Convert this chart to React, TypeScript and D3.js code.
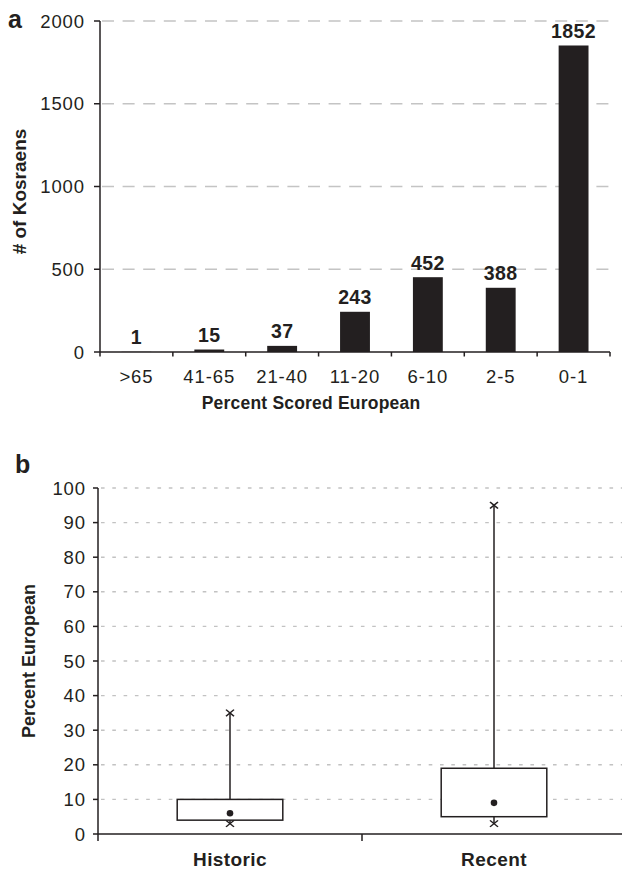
import * as d3 from "d3";

// panel a: histogram of European admixture
const categories = [">65", "41-65", "21-40", "11-20", "6-10", "2-5", "0-1"];
const counts = [1, 15, 37, 243, 452, 388, 1852];
const countTicks = [0, 500, 1000, 1500, 2000];

// panel b: box plots
const groups = ["Historic", "Recent"];
const q1 = [4, 5];
const q3 = [10, 19];
const means = [6, 9];
const maxs = [35, 95];
const mins = [3, 3];
const pctTicks = [0, 10, 20, 30, 40, 50, 60, 70, 80, 90, 100];

const W = 622;
const H = 873;
const ink = "#231f20";
const font = "'Liberation Sans', Arial, Helvetica, sans-serif";

export default function App() {
  const yA = d3.scaleLinear().domain([0, 2000]).range([352, 21]);
  const xA = d3.scaleBand().domain(categories).range([100, 610]);
  const barW = xA.bandwidth() * 0.41;

  const yB = d3.scaleLinear().domain([0, 100]).range([834, 488]);
  const xB = d3.scaleBand().domain(groups).range([98, 626]);
  const boxW = xB.bandwidth() * 0.4;
  const cross = d3.symbol(d3.symbolTimes, 36)() || "";

  const [a0, a1] = xA.range();
  const [b0, b1] = xB.range();

  return (
    <svg
      width={W}
      height={H}
      viewBox={`0 0 ${W} ${H}`}
      style={{ position: "absolute", left: 0, top: 0, background: "#fff" }}
      fontFamily={font}
    >
      {/* ---------- panel a ---------- */}
      <text x={8} y={28} fontSize={25} fontWeight="bold" fill={ink}>a</text>

      {countTicks.slice(1).map((t) => (
        <line key={"ga" + t} x1={a0 + 2} x2={a1} y1={yA(t)} y2={yA(t)}
          stroke="#c4c4c4" strokeWidth={1.4} strokeDasharray="12,8.6" />
      ))}

      {categories.map((c, i) => (
        <rect key={"bar" + c} x={(xA(c) || 0) + (xA.bandwidth() - barW) / 2}
          y={yA(counts[i])} width={barW} height={yA(0) - yA(counts[i])} fill={ink} />
      ))}

      {categories.map((c, i) => (
        <text key={"val" + c} x={(xA(c) || 0) + xA.bandwidth() / 2} y={yA(counts[i]) - 7.5}
          textAnchor="middle" fontSize={19.5} fontWeight="bold" letterSpacing={0.4} fill={ink}>
          {counts[i]}
        </text>
      ))}

      {/* axes a */}
      <line x1={a0} x2={a0} y1={yA(2000)} y2={yA(0)} stroke={ink} strokeWidth={1.5} />
      <line x1={a0} x2={a1} y1={yA(0)} y2={yA(0)} stroke={ink} strokeWidth={1.5} />
      {countTicks.map((t) => (
        <g key={"ta" + t}>
          <line x1={a0 - 6} x2={a0} y1={yA(t)} y2={yA(t)} stroke={ink} strokeWidth={1.5} />
          <text x={85} y={yA(t)} dy="0.36em" textAnchor="end" fontSize={18.5}
            letterSpacing={0.9} fill={ink}>{t}</text>
        </g>
      ))}
      {[...categories.map((c) => xA(c) || 0), a1].map((x, i) => (
        <line key={"xta" + i} x1={x} x2={x} y1={yA(0)} y2={yA(0) + 4.5} stroke={ink} strokeWidth={1.5} />
      ))}
      {categories.map((c) => (
        <text key={"la" + c} x={(xA(c) || 0) + xA.bandwidth() / 2} y={383}
          textAnchor="middle" fontSize={18.5} letterSpacing={0.9} fill={ink}>{c}</text>
      ))}
      <text x={311} y={409} textAnchor="middle" fontSize={17.5} fontWeight="bold"
        letterSpacing={0.2} fill={ink}>Percent Scored European</text>
      <text transform={`translate(26,${(yA(0) + yA(2000)) / 2 + 5}) rotate(-90)`} textAnchor="middle"
        fontSize={19} fontWeight="bold" fill={ink}># of Kosraens</text>

      {/* ---------- panel b ---------- */}
      <text x={15} y={473} fontSize={25} fontWeight="bold" fill={ink}>b</text>

      {pctTicks.slice(1).map((t) => (
        <line key={"gb" + t} x1={b0 + 3} x2={W} y1={yB(t)} y2={yB(t)}
          stroke="#c2c2c2" strokeWidth={1.4} strokeDasharray="3.6,7.7" />
      ))}

      {groups.map((g, i) => {
        const cx = (xB(g) || 0) + xB.bandwidth() / 2;
        return (
          <g key={"box" + g}>
            <line x1={cx} x2={cx} y1={yB(q3[i])} y2={yB(maxs[i])} stroke={ink} strokeWidth={1.5} />
            <line x1={cx} x2={cx} y1={yB(q1[i])} y2={yB(mins[i])} stroke={ink} strokeWidth={1.5} />
            <rect x={cx - boxW / 2} y={yB(q3[i])} width={boxW} height={yB(q1[i]) - yB(q3[i])}
              fill="#fff" stroke={ink} strokeWidth={1.5} />
            <circle cx={cx} cy={yB(means[i])} r={3.3} fill={ink} />
            <path d={cross} transform={`translate(${cx},${yB(maxs[i])}) scale(1.1,0.9)`}
              fill="none" stroke={ink} strokeWidth={1.5} />
            <path d={cross} transform={`translate(${cx},${yB(mins[i])}) scale(1.1,0.9)`}
              fill="none" stroke={ink} strokeWidth={1.5} />
          </g>
        );
      })}

      {/* axes b */}
      <line x1={b0} x2={b0} y1={yB(100)} y2={yB(0)} stroke={ink} strokeWidth={1.5} />
      <line x1={b0} x2={W} y1={yB(0)} y2={yB(0)} stroke={ink} strokeWidth={1.5} />
      {pctTicks.map((t) => (
        <g key={"tb" + t}>
          <line x1={b0 - 5} x2={b0} y1={yB(t)} y2={yB(t)} stroke={ink} strokeWidth={1.5} />
          <text x={86} y={yB(t)} dy="0.36em" textAnchor="end" fontSize={18.5}
            letterSpacing={0.9} fill={ink}>{t}</text>
        </g>
      ))}
      {[...groups.map((g) => xB(g) || 0), b1].map((x, i) => (
        <line key={"xtb" + i} x1={x} x2={x} y1={yB(0)} y2={yB(0) + 7} stroke={ink} strokeWidth={1.5} />
      ))}
      {groups.map((g) => (
        <text key={"lb" + g} x={(xB(g) || 0) + xB.bandwidth() / 2} y={866}
          textAnchor="middle" fontSize={19} fontWeight="bold" letterSpacing={0.4} fill={ink}>{g}</text>
      ))}
      <text transform={`translate(35,${(yB(0) + yB(100)) / 2}) rotate(-90)`} textAnchor="middle"
        fontSize={18} fontWeight="bold" fill={ink}>Percent European</text>
    </svg>
  );
}
